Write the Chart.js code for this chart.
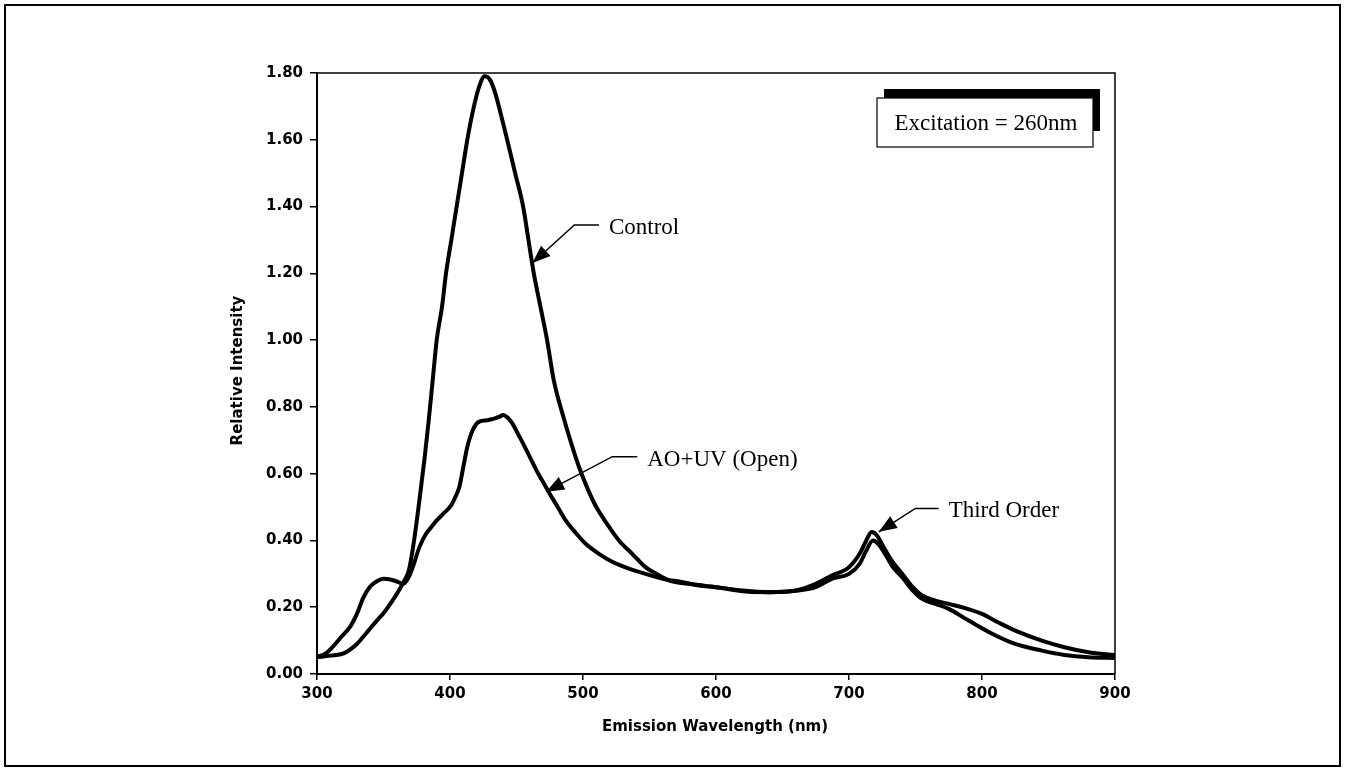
<!DOCTYPE html>
<html>
<head>
<meta charset="utf-8">
<script src="https://cdn.jsdelivr.net/npm/chart.js@4.4.0/dist/chart.umd.min.js"></script>
<style>
  html, body { margin: 0; padding: 0; background: #fff; }
</style>
</head>
<body>
<canvas id="chart" width="1347" height="771"></canvas>
<script>
// emission spectra (wavelength in nm, relative intensity)
const controlNm = [300, 310, 320, 330, 337, 345, 350, 356, 362, 365, 369, 373, 377, 381, 384, 387, 390, 394, 397, 401, 405, 409, 413, 418, 422, 426, 430, 434, 438, 443, 449, 455, 459, 463, 468, 473, 478, 486, 492, 497, 504, 510, 518, 527, 537, 547, 555, 565, 580, 600, 620, 640, 660, 675, 687, 700, 708, 713, 717, 721, 726, 732, 740, 748, 755, 765, 775, 785, 800, 812, 825, 845, 862, 880, 900];
const controlVal = [0.05, 0.055, 0.062, 0.09, 0.122, 0.16, 0.182, 0.215, 0.253, 0.275, 0.31, 0.40, 0.52, 0.65, 0.76, 0.88, 1.00, 1.10, 1.20, 1.30, 1.40, 1.50, 1.60, 1.70, 1.76, 1.79, 1.78, 1.74, 1.68, 1.60, 1.50, 1.40, 1.30, 1.20, 1.10, 1.00, 0.88, 0.76, 0.68, 0.62, 0.55, 0.50, 0.45, 0.40, 0.36, 0.32, 0.30, 0.28, 0.27, 0.26, 0.25, 0.245, 0.25, 0.27, 0.295, 0.32, 0.36, 0.40, 0.425, 0.415, 0.38, 0.34, 0.30, 0.26, 0.235, 0.22, 0.21, 0.20, 0.18, 0.155, 0.13, 0.10, 0.08, 0.065, 0.057];

const aoNm = [300, 306, 312, 318, 325, 330, 335, 340, 345, 350, 355, 360, 365, 369, 372, 377, 382, 386, 390, 395, 401, 404, 407, 410, 413, 417, 422, 428, 433, 437, 440, 444, 447, 451, 455, 460, 465, 470, 475, 481, 487, 494, 502, 512, 522, 535, 547, 560, 575, 587, 600, 625, 640, 662, 675, 687, 700, 708, 713, 718, 722, 727, 733, 740, 748, 755, 765, 775, 790, 808, 825, 845, 862, 880, 900];
const aoVal = [0.052, 0.06, 0.082, 0.11, 0.142, 0.18, 0.23, 0.262, 0.278, 0.285, 0.283, 0.277, 0.27, 0.29, 0.32, 0.38, 0.42, 0.44, 0.46, 0.48, 0.506, 0.53, 0.56, 0.62, 0.68, 0.73, 0.756, 0.76, 0.765, 0.77, 0.776, 0.765, 0.75, 0.72, 0.69, 0.65, 0.61, 0.575, 0.54, 0.50, 0.46, 0.425, 0.39, 0.36, 0.336, 0.315, 0.30, 0.285, 0.275, 0.265, 0.26, 0.246, 0.245, 0.25, 0.26, 0.285, 0.30, 0.33, 0.37, 0.40, 0.39, 0.36, 0.32, 0.29, 0.25, 0.225, 0.21, 0.195, 0.16, 0.12, 0.09, 0.07, 0.057, 0.05, 0.048];

const xTicks = [300, 400, 500, 600, 700, 800, 900];
const yTicks = [0, 0.2, 0.4, 0.6, 0.8, 1.0, 1.2, 1.4, 1.6, 1.8];

// arrow callouts, in data units: tip of arrow, elbow, end of leader, label
const callouts = [
  { text: 'Control', tip: [462, 1.231], elbow: [493.5, 1.345], end: [512, 1.345] },
  { text: 'AO+UV (Open)', tip: [472.3, 0.546], elbow: [522, 0.651], end: [540.8, 0.651] },
  { text: 'Third Order', tip: [722.4, 0.426], elbow: [749.9, 0.496], end: [767.4, 0.496] }
];
const boxText = 'Excitation = 260nm';

const toPts = (xs, ys) => xs.map((x, i) => ({ x: x, y: ys[i] }));

const decor = {
  id: 'decor',
  beforeDraw(chart) {
    const ctx = chart.ctx;
    ctx.save();
    ctx.fillStyle = '#fff';
    ctx.fillRect(0, 0, chart.width, chart.height);
    ctx.restore();
  },
  afterDraw(chart) {
    const { ctx, chartArea: a, scales: { x, y } } = chart;
    ctx.save();
    ctx.strokeStyle = '#000';
    ctx.fillStyle = '#000';

    // top and right edges of the plot
    ctx.lineWidth = 1.5;
    ctx.beginPath();
    ctx.moveTo(a.left, a.top);
    ctx.lineTo(a.right, a.top);
    ctx.lineTo(a.right, a.bottom);
    ctx.stroke();

    // outer frame
    ctx.lineWidth = 2;
    ctx.strokeRect(5, 5, 1335, 761);

    // axis titles
    ctx.font = 'bold 15px "DejaVu Sans"';
    ctx.textAlign = 'center';
    ctx.textBaseline = 'middle';
    ctx.fillText('Emission Wavelength (nm)', (a.left + a.right) / 2 - 1, a.bottom + 53);
    ctx.save();
    ctx.translate(a.left - 79, (a.top + a.bottom) / 2 - 3);
    ctx.rotate(-Math.PI / 2);
    ctx.fillText('Relative Intensity', 0, 0);
    ctx.restore();

    // callouts
    ctx.font = '23px "Liberation Serif"';
    ctx.textAlign = 'left';
    callouts.forEach(c => {
      const tx = x.getPixelForValue(c.tip[0]), ty = y.getPixelForValue(c.tip[1]);
      const ex = x.getPixelForValue(c.elbow[0]), ey = y.getPixelForValue(c.elbow[1]);
      const nx = x.getPixelForValue(c.end[0]), ny = y.getPixelForValue(c.end[1]);
      ctx.lineWidth = 1.5;
      ctx.beginPath();
      ctx.moveTo(nx, ny);
      ctx.lineTo(ex, ey);
      ctx.lineTo(tx, ty);
      ctx.stroke();
      const dx = tx - ex, dy = ty - ey, len = Math.hypot(dx, dy);
      const ux = dx / len, uy = dy / len;
      const bx = tx - ux * 18, by = ty - uy * 18;
      ctx.beginPath();
      ctx.moveTo(tx, ty);
      ctx.lineTo(bx - uy * 7, by + ux * 7);
      ctx.lineTo(bx + uy * 7, by - ux * 7);
      ctx.closePath();
      ctx.fill();
      ctx.fillText(c.text, nx + 10, ny + 3);
    });

    // excitation box with drop shadow
    const bw = 216, bh = 49;
    const bxl = a.right - 22 - bw, byt = a.top + 25;
    ctx.fillRect(bxl + 7, byt - 9, bw, bh - 7);
    ctx.fillStyle = '#fff';
    ctx.fillRect(bxl, byt, bw, bh);
    ctx.lineWidth = 1.2;
    ctx.strokeRect(bxl, byt, bw, bh);
    ctx.fillStyle = '#000';
    ctx.textAlign = 'center';
    ctx.fillText(boxText, bxl + bw / 2 + 1, byt + bh / 2 + 1);

    ctx.restore();
  }
};

const tickFont = { family: 'DejaVu Sans', weight: 'bold', size: 15 };

new Chart(document.getElementById('chart'), {
  type: 'line',
  data: {
    datasets: [
      {
        label: 'Control',
        data: toPts(controlNm, controlVal),
        borderColor: '#000',
        borderWidth: 4,
        pointRadius: 0,
        cubicInterpolationMode: 'monotone',
        fill: false
      },
      {
        label: 'AO+UV (Open)',
        data: toPts(aoNm, aoVal),
        borderColor: '#000',
        borderWidth: 4,
        pointRadius: 0,
        cubicInterpolationMode: 'monotone',
        fill: false
      }
    ]
  },
  options: {
    responsive: false,
    animation: false,
    layout: { padding: { left: 217, right: 232, top: 73, bottom: 17 } },
    plugins: {
      legend: { display: false },
      tooltip: { enabled: false }
    },
    scales: {
      x: {
        type: 'linear',
        min: 300,
        max: 900,
        afterBuildTicks: s => { s.ticks = xTicks.map(v => ({ value: v })); },
        afterFit: s => { s.height = 80; },
        ticks: { color: '#000', font: tickFont, padding: 5, callback: v => String(v) },
        grid: { drawOnChartArea: false, tickLength: 6, color: '#000', lineWidth: 1.5 },
        border: { color: '#000', width: 2 }
      },
      y: {
        type: 'linear',
        min: 0,
        max: 1.8,
        afterBuildTicks: s => { s.ticks = yTicks.map(v => ({ value: v })); },
        afterFit: s => { s.width = 100; },
        ticks: { color: '#000', font: tickFont, padding: 7, callback: v => v.toFixed(2) },
        grid: { drawOnChartArea: false, tickLength: 7, color: '#000', lineWidth: 1.5 },
        border: { color: '#000', width: 2 }
      }
    }
  },
  plugins: [decor]
});
</script>
</body>
</html>
